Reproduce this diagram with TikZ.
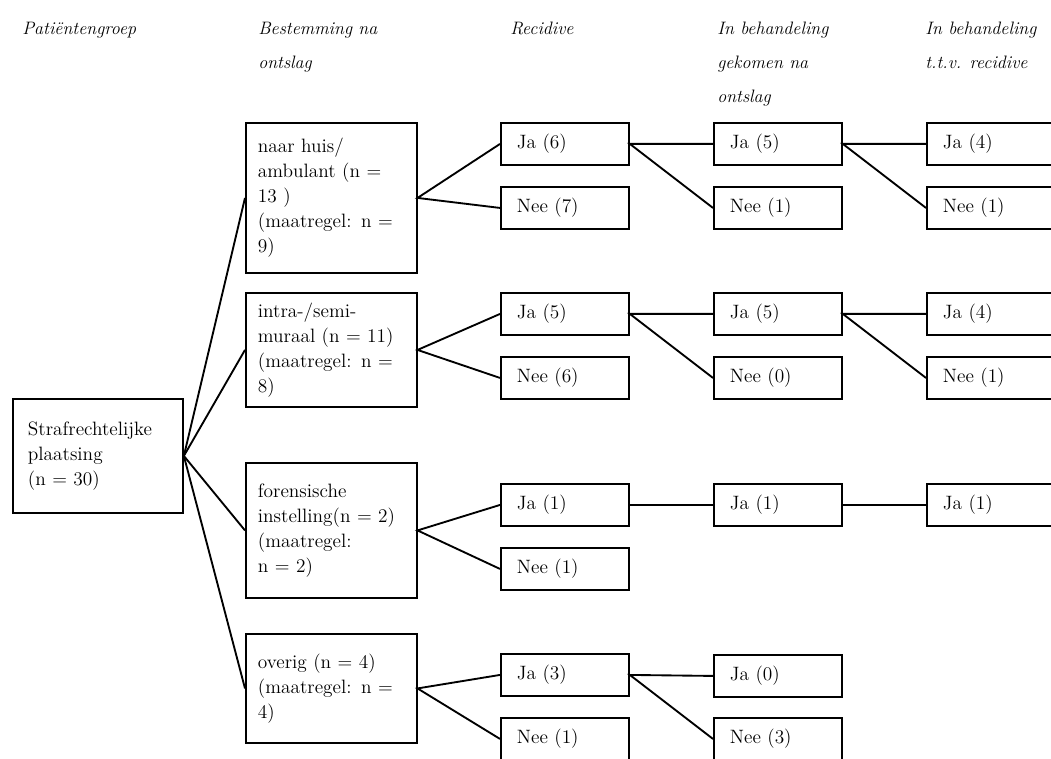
\documentclass[tikz,border=0pt]{standalone}
\usepackage{fontspec}
\usetikzlibrary{positioning}
\tikzset{
  kop/.style={font=\fontsize{13.5}{25.5}\selectfont\itshape, align=left, inner sep=0pt, anchor=north west},
  kader/.style={draw, line width=1.4pt, anchor=north west, inner xsep=9pt, inner ysep=0pt,
    font=\fontsize{14.5}{18.75}\selectfont, align=left, text width=110pt, minimum width=128pt},
  klein/.style={draw, line width=1.4pt, anchor=north west, inner xsep=12pt, inner ysep=0pt,
    font=\fontsize{14.5}{18}\selectfont, align=left, text width=72pt, minimum width=96pt, minimum height=31.5pt},
  lijn/.style={line width=1.4pt}
}
\begin{document}
\begin{tikzpicture}[x=0.75pt, y=-0.75pt]
\useasboundingbox (0,0) rectangle (1051,759);
% kopjes
\node[kop] (hPat) at (22,22) {Patiëntengroep};
\node[kop] (hBest) at (258,22) {Bestemming na\\ontslag};
\node[kop] (hRec) at (510,22) {Recidive};
\node[kop] (hBeh) at (717,22) {In behandeling\\gekomen na\\ontslag};
\node[kop] (hTtv) at (925,22) {In behandeling\\t.t.v. recidive};
% patientengroep en bestemming
\node[kader, text width=105pt, inner xsep=11pt, minimum width=127.5pt, minimum height=85.5pt] (root) at (12,398)
  {Strafrechtelijke\\plaatsing\\(n = 30)};
\node[kader, minimum height=112.5pt] (naarhuis) at (245,122) {naar huis/\\ambulant (n =\\13 )\\(maatregel: n =\\9)};
\node[kader, minimum height=85.5pt] (intra) at (245,292) {intra-/semi-\\muraal (n = 11)\\(maatregel: n =\\8)};
\node[kader, minimum height=101.25pt] (forens) at (245,462) {forensische\\instelling(n~=~2)\\(maatregel:\\n = 2)};
\node[kader, minimum height=81.75pt] (overig) at (245,633) {overig (n = 4)\\(maatregel: n =\\4)};
% recidive
\foreach \n/\y/\t in {ja1/122/Ja (6), nee1/186/Nee (7), ja2/292/Ja (5), nee2/356/Nee (6),
    ja3/483/Ja (1), nee3/547/Nee (1), ja4/653/Ja (3), nee4/717/Nee (1)}
  \node[klein] (r\n) at (500,\y) {\t};
% in behandeling na ontslag
\foreach \n/\y/\t in {ja1/122/Ja (5), nee1/186/Nee (1), ja2/292/Ja (5), nee2/356/Nee (0),
    ja3/483/Ja (1), ja4/654/Ja (0), nee4/717/Nee (3)}
  \node[klein] (b\n) at (713,\y) {\t};
% in behandeling ttv recidive
\foreach \n/\y/\t in {ja1/122/Ja (4), nee1/186/Nee (1), ja2/292/Ja (4), nee2/356/Nee (1), ja3/483/Ja (1)}
  \node[klein] (t\n) at (926,\y) {\t};
% verbindingen
\foreach \b in {naarhuis,intra,forens,overig}
  \draw[lijn] (root.east) -- (\b.west);
\foreach \b/\i in {naarhuis/1,intra/2,forens/3,overig/4}
  \draw[lijn] (rja\i.west) -- (\b.east) -- (rnee\i.west);
\foreach \i in {1,2,4}
  \draw[lijn] (bja\i.west) -- (rja\i.east) -- (bnee\i.west);
\draw[lijn] (rja3) -- (bja3);
\foreach \i in {1,2}
  \draw[lijn] (tja\i.west) -- (bja\i.east) -- (tnee\i.west);
\draw[lijn] (bja3) -- (tja3);
\end{tikzpicture}
\end{document}
